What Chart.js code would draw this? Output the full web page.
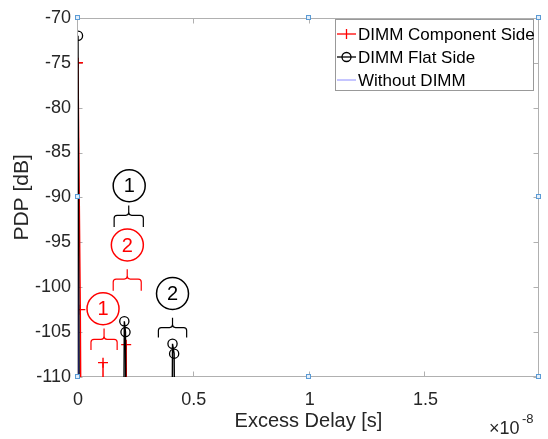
<!DOCTYPE html>
<html>
<head>
<meta charset="utf-8">
<script src="https://cdn.jsdelivr.net/npm/chart.js@4/dist/chart.umd.min.js"></script>
<style>
html, body { margin: 0; padding: 0; background: #fff; }
</style>
</head>
<body>
<canvas id="chart-pdp" width="548" height="439"></canvas>
<script>
// excess delay in units of 1e-8 s, PDP in dB (-150 = sample far below the axis floor)
const componentDelay = [0, 0.01, 0.02, 0.1, 0.108, 0.115, 0.2, 0.208, 0.215];
const componentPdp = [-75, -102.5, -150, -150, -108.4, -150, -150, -106.4, -150];
const flatDelay = [0, 0.01, 0.19, 0.2, 0.205, 0.215, 0.4, 0.408, 0.415, 0.425];
const flatPdp = [-72, -150, -150, -103.8, -105, -150, -150, -106.3, -107.4, -150];
const noDimmDelay = [0, 0.002];
const noDimmPdp = [-84, -150];
const xTicks = [0, 0.5, 1, 1.5];
const yTicks = [-110, -105, -100, -95, -90, -85, -80, -75, -70];
const seriesNames = ['DIMM Component Side', 'DIMM Flat Side', 'Without DIMM'];

// numbered callouts: circle centre and brace, in data units
const callouts = [
    {text: '1', color: '#000', cx: 0.221, cy: -88.7, x0: 0.156, x1: 0.282, tip: -90.9, bar: -92, end: -93.3},
    {text: '2', color: '#ff0000', cx: 0.213, cy: -95.3, x0: 0.152, x1: 0.273, tip: -98, bar: -99.1, end: -100.4},
    {text: '1', color: '#ff0000', cx: 0.108, cy: -102.4, x0: 0.056, x1: 0.169, tip: -104.6, bar: -105.8, end: -107},
    {text: '2', color: '#000', cx: 0.408, cy: -100.7, x0: 0.347, x1: 0.469, tip: -103.4, bar: -104.5, end: -105.6}
];

const FONT = "'Liberation Sans', Arial, sans-serif";
const AXIS_GRAY = '#b0b0b0';

function pts(xs, ys) {
    return xs.map((v, i) => ({x: v, y: ys[i]}));
}

function hideBelow(r) {
    return ctx => (ctx.raw && ctx.raw.y < -110 ? 0 : r);
}

function drawBrace(ctx, x0, x1, yTip, yBar, yEnd) {
    const xm = (x0 + x1) / 2, r = 3;
    ctx.beginPath();
    ctx.moveTo(x0, yEnd);
    ctx.lineTo(x0, yBar + r);
    ctx.quadraticCurveTo(x0, yBar, x0 + r, yBar);
    ctx.lineTo(xm - r, yBar);
    ctx.quadraticCurveTo(xm, yBar, xm, yBar - r);
    ctx.lineTo(xm, yTip);
    ctx.moveTo(xm, yBar - r);
    ctx.quadraticCurveTo(xm, yBar, xm + r, yBar);
    ctx.lineTo(x1 - r, yBar);
    ctx.quadraticCurveTo(x1, yBar, x1, yBar + r);
    ctx.lineTo(x1, yEnd);
    ctx.stroke();
}

const pdpFrame = {
    id: 'pdpFrame',
    beforeDatasetsDraw(chart) {
        const {ctx, chartArea: a, scales: {x, y}} = chart;
        const L = Math.round(a.left) - 0.5, R = Math.round(a.right) - 0.5;
        const T = Math.round(a.top) + 0.5, B = Math.round(a.bottom) - 0.5;
        ctx.save();
        ctx.strokeStyle = AXIS_GRAY;
        ctx.lineWidth = 1;
        ctx.strokeRect(L, T, R - L, B - T);
        ctx.beginPath();
        xTicks.forEach(v => {
            const px = Math.round(x.getPixelForValue(v)) - 0.5;
            ctx.moveTo(px, B); ctx.lineTo(px, B - 5);
            ctx.moveTo(px, T); ctx.lineTo(px, T + 5);
        });
        yTicks.forEach(v => {
            const py = Math.round(y.getPixelForValue(v)) + 0.5;
            ctx.moveTo(L, py); ctx.lineTo(L + 5, py);
            ctx.moveTo(R, py); ctx.lineTo(R - 5, py);
        });
        ctx.stroke();
        ctx.restore();
    },
    afterDatasetsDraw(chart) {
        const {ctx, scales: {x, y}} = chart;
        ctx.save();
        // callouts
        callouts.forEach(c => {
            ctx.strokeStyle = c.color;
            ctx.fillStyle = c.color;
            ctx.lineWidth = 1.5;
            const cx = x.getPixelForValue(c.cx), cy = y.getPixelForValue(c.cy);
            ctx.beginPath();
            ctx.arc(cx, cy, 16, 0, Math.PI * 2);
            ctx.stroke();
            ctx.font = '20px ' + FONT;
            ctx.textAlign = 'center';
            ctx.textBaseline = 'middle';
            ctx.fillText(c.text, cx, cy + 1);
            ctx.lineWidth = 1.2;
            drawBrace(ctx, x.getPixelForValue(c.x0), x.getPixelForValue(c.x1),
                y.getPixelForValue(c.tip), y.getPixelForValue(c.bar), y.getPixelForValue(c.end));
        });

        // legend box
        const bx = 335.5, by = 19.5, bw = 198, bh = 71;
        ctx.fillStyle = '#fff';
        ctx.fillRect(bx, by, bw, bh);
        ctx.strokeStyle = '#999';
        ctx.lineWidth = 1;
        ctx.strokeRect(bx, by, bw, bh);
        const rows = [34, 57, 80];
        const colors = ['#ff0000', '#000000', '#6f6fff'];
        ctx.font = '17px ' + FONT;
        ctx.textAlign = 'left';
        ctx.textBaseline = 'middle';
        rows.forEach((ry, i) => {
            ctx.strokeStyle = colors[i];
            ctx.lineWidth = i === 2 ? 0.8 : 1.3;
            ctx.beginPath();
            ctx.moveTo(337, ry); ctx.lineTo(356, ry);
            ctx.stroke();
            ctx.lineWidth = 1.3;
            if (i === 0) {
                ctx.beginPath();
                ctx.moveTo(346.5, ry - 5); ctx.lineTo(346.5, ry + 5);
                ctx.stroke();
            } else if (i === 1) {
                ctx.beginPath();
                ctx.arc(346.5, ry, 4.5, 0, Math.PI * 2);
                ctx.stroke();
            }
            ctx.fillStyle = '#000';
            ctx.fillText(seriesNames[i], 358, ry + 1);
        });

        // exponent label
        ctx.fillStyle = '#262626';
        ctx.font = '18px ' + FONT;
        ctx.textBaseline = 'alphabetic';
        ctx.fillText('\u00d710', 489, 434);
        ctx.font = '13px ' + FONT;
        ctx.fillText('-8', 522, 423);
        ctx.restore();
    },
    afterDraw(chart) {
        // selection handles
        const {ctx, chartArea: a} = chart;
        const xs = [a.left, (a.left + a.right) / 2, a.right];
        const ys = [a.top, (a.top + a.bottom) / 2, a.bottom];
        ctx.save();
        ctx.fillStyle = '#e3eefa';
        ctx.strokeStyle = '#5b9bd5';
        ctx.lineWidth = 1;
        xs.forEach((hx, i) => ys.forEach((hy, j) => {
            if (i === 1 && j === 1) return;
            const rx = Math.round(hx) - 2.5, ry = Math.round(hy) - 2.5;
            ctx.fillRect(rx, ry, 4, 4);
            ctx.strokeRect(rx, ry, 4, 4);
        }));
        ctx.restore();
    }
};

new Chart(document.getElementById('chart-pdp'), {
    type: 'line',
    data: {
        datasets: [
            {
                label: seriesNames[2],
                data: pts(noDimmDelay, noDimmPdp),
                borderColor: '#4a4aff',
                borderWidth: 1,
                pointRadius: 0,
                order: 2
            },
            {
                label: seriesNames[1],
                data: pts(flatDelay, flatPdp),
                borderColor: '#000',
                borderWidth: 1.4,
                pointStyle: 'circle',
                pointRadius: hideBelow(4.6),
                pointBorderWidth: 1.3,
                pointBorderColor: '#000',
                pointBackgroundColor: 'rgba(0,0,0,0)',
                order: 1
            },
            {
                label: seriesNames[0],
                data: pts(componentDelay, componentPdp),
                borderColor: '#ff0000',
                borderWidth: 1.4,
                pointStyle: 'cross',
                pointRadius: hideBelow(5),
                pointBorderWidth: 1.4,
                pointBorderColor: '#ff0000',
                order: 3
            }
        ]
    },
    options: {
        responsive: false,
        animation: false,
        devicePixelRatio: 1,
        layout: {padding: {top: 13, right: 9, left: 0, bottom: 0}},
        plugins: {legend: {display: false}, tooltip: {enabled: false}},
        elements: {line: {tension: 0}},
        scales: {
            x: {
                type: 'linear',
                min: 0,
                max: 1.99,
                grid: {display: false, drawTicks: false},
                border: {display: false},
                afterBuildTicks: s => { s.ticks = xTicks.map(v => ({value: v})); },
                afterFit: s => { s.height = 62; },
                ticks: {
                    padding: 12,
                    color: '#262626',
                    font: {family: FONT, size: 18},
                    maxRotation: 0,
                    callback: v => String(v)
                },
                title: {
                    display: true,
                    text: 'Excess Delay [s]',
                    color: '#262626',
                    font: {family: FONT, size: 20},
                    padding: {top: 0, bottom: 6}
                }
            },
            y: {
                min: -110,
                max: -70,
                grid: {display: false, drawTicks: false},
                border: {display: false},
                afterBuildTicks: s => { s.ticks = yTicks.map(v => ({value: v})); },
                afterFit: s => { s.width = 78; },
                ticks: {
                    padding: 7,
                    color: '#262626',
                    font: {family: FONT, size: 18},
                    callback: v => String(v)
                },
                title: {
                    display: true,
                    text: 'PDP [dB]',
                    color: '#262626',
                    font: {family: FONT, size: 21},
                    padding: {top: 10, bottom: 0}
                }
            }
        }
    },
    plugins: [pdpFrame]
});
</script>
</body>
</html>
